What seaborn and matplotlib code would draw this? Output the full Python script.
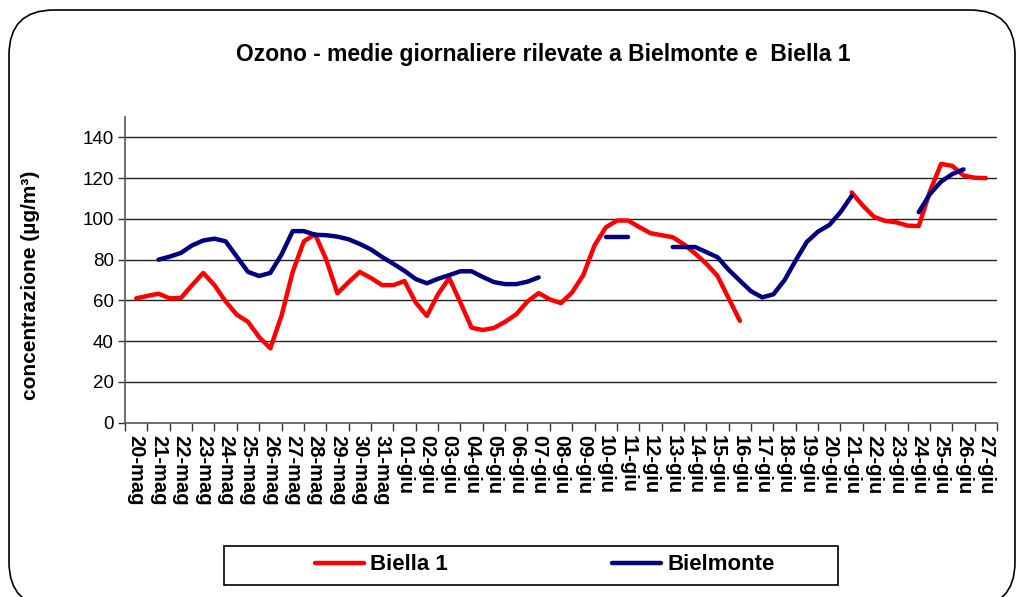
import numpy as np
import pandas as pd
import matplotlib
matplotlib.use("Agg")
import matplotlib.pyplot as plt
import matplotlib.transforms as mtransforms
from matplotlib.patches import FancyBboxPatch, Rectangle
from matplotlib.lines import Line2D
import seaborn as sns

# ================= DATA =================
days = ([f"{d}-mag" for d in range(20, 32)] +
        [f"{d:02d}-giu" for d in range(1, 28)])

# values every half day (index 0 = 20-mag, index 76 = 27-giu), None = no data
biella1 = [61, 62.2, 63.3, 61, 61.2, 67.5, 73.5, 67.5, 59.5, 53,
           49.5, 42, 36.5, 52.5, 74, 89, 92.5, 80, 63.5, 69,
           74, 71, 67.5, 67.5, 69.5, 59, 52.4, 63, 71, 59,
           46.6, 45.5, 46.5, 49.5, 53.2, 59.5, 63.6, 60.5, 58.7, 64,
           72.5, 87, 95.8, 99.2, 99.2, 96, 93, 92, 91, 87.5,
           83, 78, 72, 61, 50, None, None, None, None, None,
           None, None, None, None, 113, 106.5, 101, 99, 98.3, 96.7,
           96.5, 113.5, 127, 126, 121.3, 120.2, 120]

bielmonte = [None, None, 80, 81.5, 83.3, 87, 89.4, 90.3, 89, 81.5,
             74, 72, 73.5, 82.5, 94, 94, 92.2, 92, 91.3, 90,
             87.7, 85, 81.3, 78, 74.5, 70.5, 68.4, 70.6, 72.4, 74.3,
             74.3, 71.5, 69, 68, 68, 69.2, 71.3, None, None, None,
             None, None, 91, 91, 91, None, None, None, 86.2, 86.2,
             86.2, 83.7, 81.2, 75, 69.7, 64.5, 61.5, 63, 70, 79.7,
             88.8, 93.8, 97, 103.3, 111.3, None, None, None, None, None,
             103.3, 112.2, 118.3, 122, 124.3, None, None]

series = {"Biella 1": biella1, "Bielmonte": bielmonte}
colors = {"Biella 1": "#FF0000", "Bielmonte": "#000080"}


def to_frame():
    rows = []
    for name, vals in series.items():
        seg = 0
        for i, v in enumerate(vals):
            if v is None:
                seg += 1
                continue
            rows.append({"giorno": i * 0.5, "valore": v,
                         "stazione": name, "tratto": f"{name}_{seg}"})
    return pd.DataFrame(rows)


df = to_frame()

# ================= PLOT =================
sns.set_theme(style="white")
plt.rcParams["font.family"] = ["Liberation Sans", "DejaVu Sans"]
plt.rcParams["text.color"] = "black"
plt.rcParams["xtick.color"] = "black"
plt.rcParams["ytick.color"] = "black"

W, H = 1021, 597
fig = plt.figure(figsize=(W / 100, H / 100), dpi=100)
ax = fig.add_axes([125 / W, 1 - 422.7 / H, (997 - 125) / W, (422.7 - 117) / H])

sns.lineplot(data=df, x="giorno", y="valore", hue="stazione", units="tratto",
             estimator=None, palette=colors, linewidth=3.2, ax=ax,
             legend=False, solid_capstyle="round", solid_joinstyle="round")

ax.set_xlim(-0.5, len(days) - 0.5)
ax.set_ylim(0, 150)
ax.set_yticks(range(0, 141, 20))
ax.set_yticklabels([str(v) for v in range(0, 141, 20)], fontsize=13.5)
ax.set_xticks(range(len(days)))
ax.set_xticklabels(days, rotation=270, fontsize=14.5, fontweight="bold",
                   va="top", ha="center")
ax.set_xticks(np.arange(-0.5, len(days), 1), minor=True)
ax.tick_params(axis="x", which="major", length=0, pad=9)
ax.tick_params(axis="x", which="minor", length=6, width=1, color="#333333",
               direction="out", bottom=True)
ax.tick_params(axis="y", length=5, width=1, color="#333333", direction="out",
               left=True, pad=3)
ax.set_xlabel("")
ax.set_ylabel("")
for v in range(20, 141, 20):
    ax.axhline(v, color="#222222", linewidth=1, zorder=0)
for s in ["top", "right"]:
    ax.spines[s].set_visible(False)
for s in ["left", "bottom"]:
    ax.spines[s].set_color("#555555")
    ax.spines[s].set_linewidth(1.2)

fig.text(543 / W, 1 - 55 / H,
         "Ozono - medie giornaliere rilevate a Bielmonte e  Biella 1",
         ha="center", va="center", fontsize=16.5, fontweight="bold")
fig.text(30 / W, 1 - 285 / H, "concentrazione (µg/m³)", rotation=90,
         ha="center", va="center", fontsize=15, fontweight="bold")

# legend box
fig.patches.append(Rectangle((224 / W, 1 - 585 / H), (838 - 224) / W, 39 / H,
                             transform=fig.transFigure, fill=False,
                             edgecolor="black", linewidth=1.2))
handles = [Line2D([], [], color=colors[n], linewidth=3.2) for n in series]
fig.legend(handles, list(series.keys()), loc="center",
           bbox_to_anchor=(545 / W, 1 - 565 / H), ncol=2, frameon=False,
           prop={"weight": "bold", "size": 16}, handlelength=2.2,
           handletextpad=0.3, columnspacing=7.4)

# outer rounded border
fig.patches.append(FancyBboxPatch((9, -10), 1006, 597,
                                  boxstyle="round,pad=0,rounding_size=45",
                                  transform=mtransforms.IdentityTransform(),
                                  fill=False, edgecolor="black", linewidth=1.2))

fig.savefig("out.png", dpi=100)
